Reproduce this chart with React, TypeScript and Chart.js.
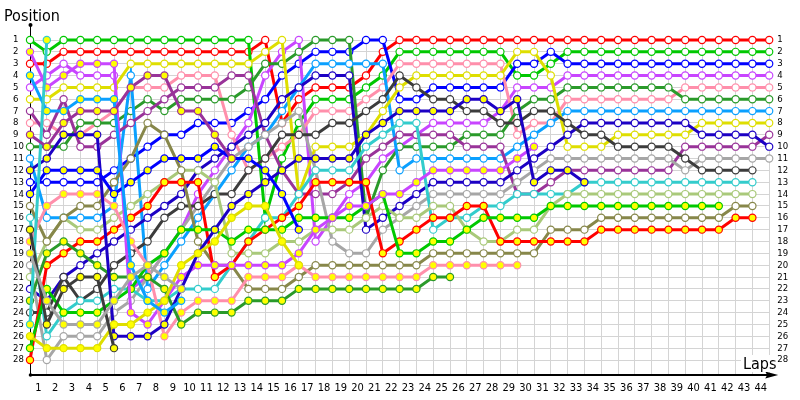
import React, { useEffect, useRef } from "react";
import { Chart, registerables } from "chart.js";

Chart.register(...registerables);

// Lap numbers (0 = starting grid) and position rows
const lapNumbers: number[] = [0,1,2,3,4,5,6,7,8,9,10,11,12,13,14,15,16,17,18,19,20,21,22,23,24,25,26,27,28,29,30,31,32,33,34,35,36,37,38,39,40,41,42,43,44];
const positionRows: number[] = [1,2,3,4,5,6,7,8,9,10,11,12,13,14,15,16,17,18,19,20,21,22,23,24,25,26,27,28];

// Positions per lap (index = lap), white-filled markers
const redW = [3,3,2,2,2, 2,2,2,2,2, 2,2,2,2,1, 8,6,5,5,5, 4,2,1,1,1, 1,1,1,1,1, 1,1,1,1,1, 1,1,1,1,1, 1,1,1,1,1];
const greenW = [1,2,1,1,1, 1,1,1,1,1, 1,1,1,1,16, 11,8,6,6,6, 5,4,2,2,2, 2,2,2,2,4, 4,3,2,2,2, 2,2,2,2,2, 2,2,2,2,2];
const blueW = [13,13,13,13,13, 12,11,10,9,9, 8,8,8,7,6, 4,3,2,2,2, 1,1,6,6,5, 5,5,5,5,3, 3,2,3,3,3, 3,3,3,3,3, 3,3,3,3,3];
const magentaW = [5,4,3,4,4, 4,22,21,19,17, 14,12,10,8,4, 2,1,18,16,14, 13,11,10,9,8, 8,8,8,7,5, 5,5,4,4,4, 4,4,4,4,4, 4,4,4,4,4];
const pinkW = [8,8,9,9,8, 7,5,5,5,4, 4,4,9,12,11, 10,9,7,7,7, 6,5,3,3,3, 3,3,3,3,9, 8,8,6,6,6, 6,6,6,6,5, 5,5,5,5,5];
const dkgreenW = [10,10,10,8,8, 8,7,6,7,6, 6,6,6,5,3, 3,2,1,1,1, 16,12,10,10,10, 10,9,9,9,7, 6,6,5,5,5, 5,5,5,5,6, 6,6,6,6,6];
const ltblueW = [11,16,16,16,16, 15,4,22,20,18, 16,14,12,10,9, 7,5,3,3,3, 3,3,12,11,11, 11,11,11,11,10, 9,8,7,7,7, 7,7,7,7,7, 7,7,7,7,7];
const yellowW = [6,6,5,5,5, 5,3,3,3,3, 3,3,3,3,2, 1,14,10,10,10, 9,7,5,4,4, 4,4,4,4,2, 2,4,10,10,10, 9,9,9,9,9, 8,8,8,8,8];
const violetW = [7,9,6,10,10, 9,8,7,6,5, 5,5,4,4,9, 12,14,14,14,13, 11,10,9,9,9, 9,10,10,10,14, 14,13,12,12,12, 12,12,12,12,10, 10,10,10,10,9];
const navyW = [22,23,21,20,19, 18,17,16,15,14, 12,11,10,9,8, 6,5,4,4,4, 17,16,15,14,13, 13,13,13,13,12, 11,10,9,8,8, 8,8,8,8,8, 9,9,9,9,10];
const grayW = [20,28,26,26,26, 24,23,21,19,17, 15,13,11,10,9, 8,7,12,18,19, 19,17,16,15,14, 14,14,14,14,13, 12,11,11,11,11, 11,11,11,11,12, 11,11,11,11,11];
const dkgrayW = [24,24,21,23,22, 20,19,18,16,15, 15,14,14,12,11, 9,9,9,8,8, 7,6,4,5,6, 6,7,7,8,8, 7,7,8,9,9, 10,10,10,10,11, 12,12,12,12];
const cyanW = [16,26,24,23,23, 22,22,23,23,22, 22,22,20,18,16, 16,14,12,12,12, 10,9,8,8,17, 16,16,15,15,14, 14,14,14,13,13, 13,13,13,13,13, 13,13,13,13];
const ltgreenW = [21,18,16,17,17, 16,15,14,13,12, 12,13,19,19,19, 18,18,17,17,17, 16,15,16,16,15, 15,17,18,18,17, 17,15,14,14,14, 14,14,14,14,14, 14,14,14,14];
const oliveW = [15,18,16,15,15, 13,11,8,9,12, 18,20,20,22,22, 22,21,20,20,20, 20,20,20,20,19, 19,19,19,19,19, 19,17,17,17,16, 16,16,16,16,16, 16,16,15,15];

// Positions per lap, yellow-filled markers
const redY = [28,20,19,18,18, 17,16,15,13,13, 13,21,20,18,17, 16,15,13,13,13, 13,19,18,17,16, 16,15,15,18,18, 18,18,18,18,17, 17,17,17,17,17, 17,17,16,16];
const greenY = [27,22,24,24,24, 23,22,20,19,17, 17,17,18,17,17, 17,16,16,16,16, 15,14,19,19,18, 18,17,16,16,16, 16,15,15,15,15, 15,15,15,15,15, 15,15];
const magentaY = [2,5,4,3,3, 3,24,25,23,21, 20,20,20,20,20, 20,19,17,16,15, 15,14,14,13,12, 12,12,12,12,11, 10];
const pinkY = [18,15,14,14,14, 15,18,20,26,24, 23,23,23,21,21, 21,20,21,21,21, 21,21,21,21,20, 20,20,20,20,20];
const dkgreenY = [23,19,18,19,20, 21,21,21,22,25, 24,24,24,23,23, 23,22,22,22,22, 22,22,22,22,21, 21];
const navyY = [12,11,9,9,9, 26,26,26,25,22, 19,17,15,14,13, 12,11,11,11,11, 9,8,7,7,7, 7,6,6,7,6, 13,12,12,13];
const blueY = [14,12,12,12,12, 14,13,12,11,11, 11,10,11,11,12, 14,17];
const yellowY = [26,27,27,27,27, 25,25,24,23,20, 19,18,16,15,15, 18,20];
const ltblueY = [4,7,7,6,6, 6,20,23,24,23];
const cyanY = [25,1];
const dkgrayY = [17,25,22,21,21, 27];
const violetY = [9,10,8,7,7, 7,5,4,4,7, 7,9,11];
const grayY = [19,23,25,25,25, 23,21,20,21,22];

const C = {
  red: "#ff0000",
  green: "#00c800",
  blue: "#0000ff",
  magenta: "#c845ff",
  pink: "#ff8fab",
  dkgreen: "#2a9a2a",
  ltblue: "#0aa0ff",
  yellow: "#dede00",
  violet: "#993399",
  navy: "#1c00c4",
  gray: "#a6a6a6",
  dkgray: "#3c3c3c",
  cyan: "#33cccc",
  ltgreen: "#a9c97a",
  olive: "#87874a",
};

const drivers: { pos: number[]; color: string; yellow: boolean }[] = [
  { pos: grayY, color: C.gray, yellow: true },
  { pos: violetY, color: C.violet, yellow: true },
  { pos: dkgrayY, color: C.dkgray, yellow: true },
  { pos: cyanY, color: C.cyan, yellow: true },
  { pos: ltblueY, color: C.ltblue, yellow: true },
  { pos: yellowY, color: C.yellow, yellow: true },
  { pos: blueY, color: C.blue, yellow: true },
  { pos: navyY, color: C.navy, yellow: true },
  { pos: dkgreenY, color: C.dkgreen, yellow: true },
  { pos: pinkY, color: C.pink, yellow: true },
  { pos: magentaY, color: C.magenta, yellow: true },
  { pos: greenY, color: C.green, yellow: true },
  { pos: redY, color: C.red, yellow: true },
  { pos: oliveW, color: C.olive, yellow: false },
  { pos: ltgreenW, color: C.ltgreen, yellow: false },
  { pos: cyanW, color: C.cyan, yellow: false },
  { pos: dkgrayW, color: C.dkgray, yellow: false },
  { pos: grayW, color: C.gray, yellow: false },
  { pos: navyW, color: C.navy, yellow: false },
  { pos: violetW, color: C.violet, yellow: false },
  { pos: yellowW, color: C.yellow, yellow: false },
  { pos: ltblueW, color: C.ltblue, yellow: false },
  { pos: dkgreenW, color: C.dkgreen, yellow: false },
  { pos: pinkW, color: C.pink, yellow: false },
  { pos: magentaW, color: C.magenta, yellow: false },
  { pos: blueW, color: C.blue, yellow: false },
  { pos: greenW, color: C.green, yellow: false },
  { pos: redW, color: C.red, yellow: false },
];

const FONT = "'DejaVu Sans Condensed', 'DejaVu Sans', sans-serif";

const decor = {
  id: "decor",
  beforeDatasetsDraw(chart: any) {
    const { ctx, chartArea } = chart;
    const L = chartArea.left;
    const B = chartArea.bottom;
    ctx.save();
    ctx.strokeStyle = "#000";
    ctx.lineWidth = 1;
    ctx.beginPath();
    ctx.moveTo(L + 0.5, 25);
    ctx.lineTo(L + 0.5, B);
    ctx.stroke();
    ctx.lineWidth = 2;
    ctx.beginPath();
    ctx.moveTo(L, B);
    ctx.lineTo(chartArea.right, B);
    ctx.stroke();
    ctx.fillStyle = "#000";
    ctx.beginPath();
    ctx.moveTo(chartArea.right + 9, B);
    ctx.lineTo(chartArea.right - 4, B - 3.5);
    ctx.lineTo(chartArea.right - 2, B);
    ctx.lineTo(chartArea.right - 4, B + 3.5);
    ctx.closePath();
    ctx.fill();
    ctx.beginPath();
    ctx.arc(L + 0.5, 25, 2, 0, Math.PI * 2);
    ctx.fill();
    ctx.beginPath();
    ctx.arc(L + 0.5, B, 1.8, 0, Math.PI * 2);
    ctx.fill();
    ctx.restore();
  },
  afterDraw(chart: any) {
    const { ctx } = chart;
    ctx.save();
    ctx.fillStyle = "#fff";
    ctx.fillRect(741, 355, 35, 17);
    ctx.fillStyle = "#000";
    ctx.font = `16px ${FONT}`;
    ctx.textAlign = "left";
    ctx.textBaseline = "alphabetic";
    ctx.fillText("Position", 4, 20.5);
    ctx.fillText("Laps", 743, 369);
    ctx.restore();
  },
};

export default function App() {
  const ref = useRef<HTMLCanvasElement>(null);
  useEffect(() => {
    document.body.style.margin = "0";
    const canvas = ref.current!;
    const datasets = drivers.map((d) => ({
      data: d.pos.map((p, i) => ({ x: lapNumbers[i], y: p })),
      borderColor: d.color,
      backgroundColor: d.color,
      borderWidth: 3,
      pointRadius: 3.6,
      pointBorderWidth: 1.2,
      pointBackgroundColor: d.yellow ? "#ffff00" : "#ffffff",
      pointBorderColor: d.color,
      tension: 0,
      clip: false as any,
    }));
    const chart = new Chart(canvas, {
      type: "line",
      data: { datasets },
      options: {
        responsive: false,
        animation: false,
        devicePixelRatio: 1,
        events: [],
        layout: { padding: { left: 13, top: 40, right: 0, bottom: 0 } },
        plugins: { legend: { display: false }, tooltip: { enabled: false }, title: { display: false } },
        scales: {
          x: {
            type: "linear",
            min: 0,
            max: 44,
            afterBuildTicks: (s: any) => {
              s.ticks = lapNumbers.map((v) => ({ value: v }));
            },
            afterFit: (s: any) => {
              s.height = 25;
            },
            grid: { color: "#d4d4d4", lineWidth: 1, drawTicks: false },
            border: { display: false },
            ticks: {
              autoSkip: false,
              maxRotation: 0,
              padding: 7,
              labelOffset: -8.4,
              color: "#000",
              font: { family: FONT, size: 11 },
              callback: (v: any) => (Number(v) === 0 ? "" : String(v)),
            },
          },
          y: {
            type: "linear",
            position: "left",
            reverse: true,
            min: 1,
            max: 29.265,
            afterBuildTicks: (s: any) => {
              s.ticks = positionRows.map((v) => ({ value: v }));
            },
            afterFit: (s: any) => {
              s.width = 17;
            },
            grid: { color: "#d4d4d4", lineWidth: 1, drawTicks: false },
            border: { display: false },
            ticks: {
              autoSkip: false,
              crossAlign: "far",
              padding: 0,
              color: "#000",
              font: { family: FONT, size: 9.5 },
              callback: (v: any) => String(v),
            },
          },
          y2: {
            type: "linear",
            position: "right",
            reverse: true,
            min: 1,
            max: 29.265,
            afterBuildTicks: (s: any) => {
              s.ticks = positionRows.map((v) => ({ value: v }));
            },
            afterFit: (s: any) => {
              s.width = 30.8;
            },
            grid: { display: false, drawTicks: false },
            border: { display: false },
            ticks: {
              autoSkip: false,
              crossAlign: "near",
              padding: 8,
              color: "#000",
              font: { family: FONT, size: 9.5 },
              callback: (v: any) => String(v),
            },
          },
        },
      } as any,
      plugins: [decor],
    });
    return () => chart.destroy();
  }, []);
  return <canvas ref={ref} width={800} height={400} style={{ display: "block" }} />;
}
